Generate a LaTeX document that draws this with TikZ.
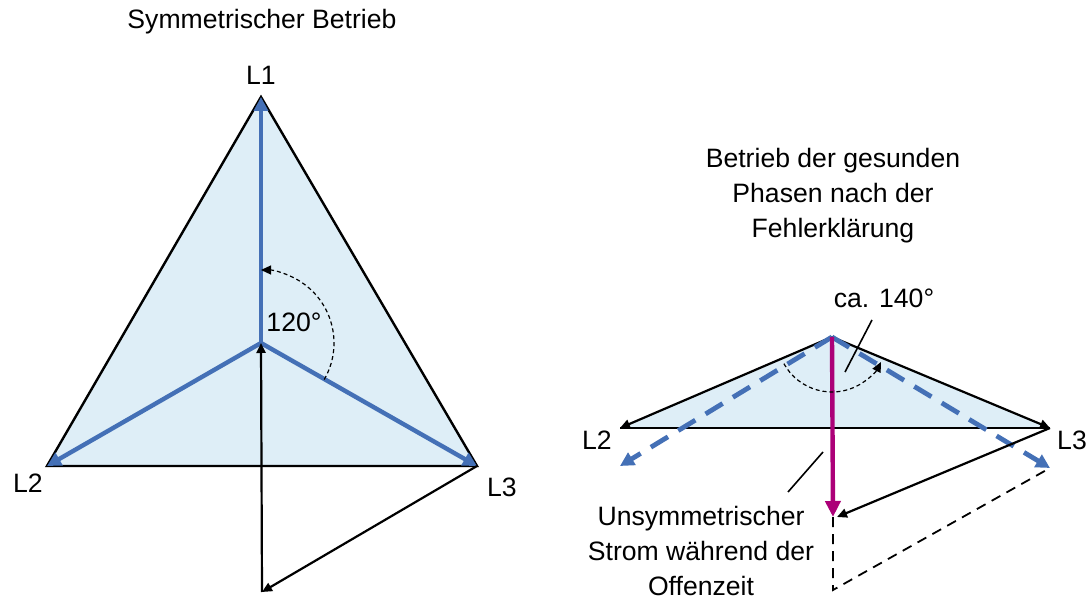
\documentclass[tikz,border=0pt]{standalone}
\usepackage{fontspec}
\setmainfont{Liberation Sans}
\usetikzlibrary{arrows.meta}

\definecolor{fillblue}{RGB}{222,238,247}
\definecolor{phaseblue}{RGB}{68,112,182}
\definecolor{faultmag}{RGB}{172,0,120}

\begin{document}
\begin{tikzpicture}[
  x=0.5pt, y=-0.5pt,
  font=\fontsize{13.3}{17.5}\selectfont,
  every node/.style={align=center, inner sep=0pt},
  phase/.style={phaseblue, line width=2.2pt, -{Triangle[length=7pt,width=7pt]}},
  phasedash/.style={phase, line width=2.4pt, dash pattern=on 10pt off 6pt},
  vec/.style={black, line width=1.1pt, -{Triangle[length=5pt,width=4.5pt]}},
  helper/.style={black, line width=0.9pt, dash pattern=on 5pt off 3.5pt},
  anglearc/.style={black, line width=0.6pt, dash pattern=on 2pt off 1.5pt,
    -{Triangle[length=5pt,width=4.5pt]}},
  fault/.style={faultmag, line width=2.2pt, -{Triangle[length=8pt,width=7.5pt]}}
]
\useasboundingbox (0,0) rectangle (1089,599);

% --- symmetrical operation (left)
\coordinate (A1) at (261,97);
\coordinate (A2) at (47,466);
\coordinate (A3) at (477,466);
\coordinate (ctr) at (261,343);
\coordinate (sumL) at (262,592);

\fill[fillblue] (A1) -- (A2) -- (A3) -- cycle;
\draw[line width=1.2pt, line join=miter] (A1) -- (A2) -- (A3) -- cycle;

\draw[phase] (ctr) -- (A1);
\draw[phase] (ctr) -- (A2);
\draw[phase] (ctr) -- (A3);

\draw[vec] (A3) -- (sumL);
\draw[vec] (sumL) -- (ctr);

% 120 degree mark
\draw[anglearc] ([shift={(30:73)}]ctr) arc[start angle=30, end angle=-90, radius=73];

\node (title1) at (262,22) {Symmetrischer Betrieb};
\node (lblL1a) at (261,75) {L1};
\node (lblL2a) at (28,483) {L2};
\node (lblL3a) at (502,487) {L3};
\node (deg120) at (294,322) {120°};

% --- healthy phases after fault clearing (right)
\coordinate (B1) at (832,337);
\coordinate (B2) at (620,428);
\coordinate (B3) at (1050,428);
\coordinate (B2x) at (620,466);
\coordinate (B3x) at (1050,468);
\coordinate (tipM) at (833,517);
\coordinate (sumR) at (833,590);

\fill[fillblue] (B1) -- (B2) -- (B3) -- cycle;
\draw[line width=1.2pt] (B2) -- (B3);
\draw[vec] (B1) -- (B2);
\draw[vec] (B1) -- (B3);

\draw[phasedash] (B1) -- (B2x);
\draw[phasedash] (B1) -- (B3x);

\draw[vec] (B3) -- ([xshift=2]tipM);
\draw[helper] (tipM) -- (sumR) -- (B3x);
\draw[fault] (B1) -- (tipM);

% ca. 140 degree mark
\draw[anglearc] ([shift={(151:55)}]B1) arc[start angle=151, end angle=27, radius=55];

\node (title2) at (833,196) {Betrieb der gesunden\\Phasen nach der\\Fehlerklärung};
\node (deg140) at (884,298) {ca. 140°};
\node (lblL2b) at (597,440) {L2};
\node (lblL3b) at (1072,440) {L3};
\node (unsym) at (701,551) {Unsymmetrischer\\Strom während der\\Offenzeit};

% leader lines
\coordinate (lead1a) at (872,320);
\coordinate (lead1b) at (845,372);
\coordinate (lead2a) at (823,452);
\coordinate (lead2b) at (788,492);
\draw[line width=0.8pt] (lead1a) -- (lead1b);
\draw[line width=0.8pt] (lead2a) -- (lead2b);

\end{tikzpicture}
\end{document}
